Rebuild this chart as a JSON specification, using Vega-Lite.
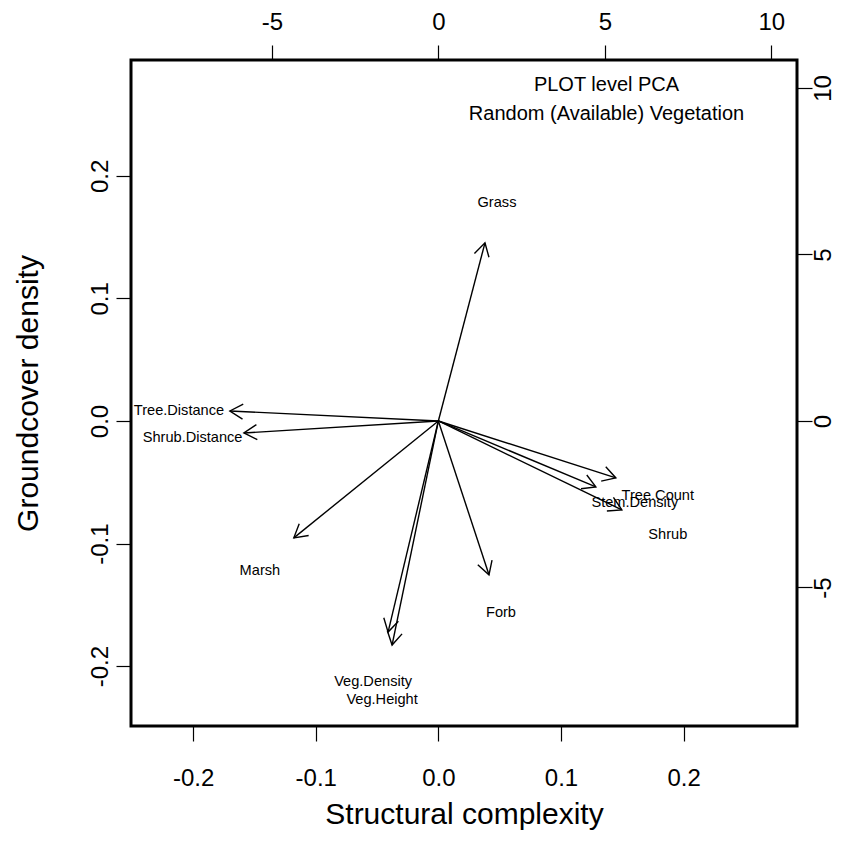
{
  "$schema": "https://vega.github.io/schema/vega-lite/v6.json",
  "width": 666,
  "height": 666,
  "autosize": {"type": "none"},
  "padding": {"left": 131, "top": 60, "right": 67, "bottom": 131},
  "background": "white",
  "config": {
    "font": "Liberation Sans",
    "view": {"stroke": "black", "strokeWidth": 3},
    "axis": {
      "domain": false,
      "grid": false,
      "tickColor": "black",
      "tickWidth": 1.2,
      "tickSize": 15,
      "labelColor": "black",
      "labelFont": "Liberation Sans",
      "labelFontSize": 24,
      "titleColor": "black",
      "titleFont": "Liberation Sans",
      "titleFontSize": 30,
      "titleFontWeight": "normal",
      "labelOverlap": false,
      "labelFlush": false
    }
  },
  "datasets": {
    "loadings": [
      {"variable": "Grass", "tipx": 1.40, "tipy": 5.35, "labx": 1.76, "laby": 6.55},
      {"variable": "Tree.Distance", "tipx": -6.26, "tipy": 0.30, "labx": -7.79, "laby": 0.30},
      {"variable": "Shrub.Distance", "tipx": -5.84, "tipy": -0.36, "labx": -7.38, "laby": -0.51},
      {"variable": "Marsh", "tipx": -4.34, "tipy": -3.51, "labx": -5.36, "laby": -4.50},
      {"variable": "Veg.Density", "tipx": -1.51, "tipy": -6.34, "labx": -1.96, "laby": -7.84},
      {"variable": "Veg.Height", "tipx": -1.39, "tipy": -6.73, "labx": -1.69, "laby": -8.38},
      {"variable": "Forb", "tipx": 1.52, "tipy": -4.62, "labx": 1.88, "laby": -5.77},
      {"variable": "Tree.Count", "tipx": 5.33, "tipy": -1.71, "labx": 6.59, "laby": -2.25},
      {"variable": "Stem.Density", "tipx": 4.73, "tipy": -1.98, "labx": 5.90, "laby": -2.46},
      {"variable": "Shrub", "tipx": 5.51, "tipy": -2.67, "labx": 6.89, "laby": -3.42}
    ],
    "origin": [{"px": 0, "py": 0}]
  },
  "layer": [
    {
      "data": {"name": "origin"},
      "mark": {"type": "point", "opacity": 0},
      "encoding": {
        "x": {
          "field": "px", "type": "quantitative",
          "scale": {"domain": [-0.2507, 0.2925], "nice": false, "zero": false},
          "axis": {
            "orient": "bottom",
            "values": [-0.2, -0.1, 0, 0.1, 0.2],
            "labelExpr": "replace(format(datum.value, '.1f'), '\u2212', '-')",
            "labelBaseline": "alphabetic",
            "labelPadding": 44,
            "title": "Structural complexity",
            "titleBaseline": "alphabetic",
            "titleY": 97
          }
        },
        "y": {
          "field": "py", "type": "quantitative",
          "scale": {"domain": [-0.2488, 0.2945], "nice": false, "zero": false},
          "axis": {
            "orient": "left",
            "values": [-0.2, -0.1, 0, 0.1, 0.2],
            "labelExpr": "replace(format(datum.value, '.1f'), '\u2212', '-')",
            "labelAngle": 270,
            "labelAlign": "center",
            "labelBaseline": "alphabetic",
            "labelPadding": 8.5,
            "title": "Groundcover density",
            "titleBaseline": "alphabetic",
            "titleX": -94
          }
        }
      }
    },
    {
      "data": {"name": "loadings"},
      "layer": [
        {
          "mark": {"type": "rule", "color": "black", "strokeWidth": 1.4},
          "encoding": {
            "x": {
              "field": "tipx", "type": "quantitative",
              "scale": {"domain": [-9.23, 10.77], "nice": false, "zero": false},
              "axis": {"orient": "top", "values": [-5, 0, 5, 10], "labelExpr": "replace(format(datum.value, 'd'), '\u2212', '-')", "labelBaseline": "alphabetic", "labelPadding": 15.5, "title": null}
            },
            "x2": {"datum": 0},
            "y": {
              "field": "tipy", "type": "quantitative",
              "scale": {"domain": [-9.16, 10.84], "nice": false, "zero": false},
              "axis": {"orient": "right", "values": [-5, 0, 5, 10], "labelExpr": "replace(format(datum.value, 'd'), '\u2212', '-')", "labelAngle": 270, "labelAlign": "center", "labelBaseline": "alphabetic", "labelPadding": 18, "title": null}
            },
            "y2": {"datum": 0}
          }
        },
        {
          "transform": [{"calculate": "atan2(-datum.tipy, datum.tipx) * 180 / PI", "as": "heading"}],
          "mark": {"type": "point", "shape": "M -0.866 -0.5 L 0 0 L -0.866 0.5", "filled": false, "color": "black", "strokeWidth": 1.4, "size": 900, "opacity": 1},
          "encoding": {
            "x": {
              "field": "tipx", "type": "quantitative",
              "scale": {"domain": [-9.23, 10.77], "nice": false, "zero": false},
              "axis": {"orient": "top", "values": [-5, 0, 5, 10], "labelExpr": "replace(format(datum.value, 'd'), '\u2212', '-')", "labelBaseline": "alphabetic", "labelPadding": 15.5, "title": null}
            },
            "y": {
              "field": "tipy", "type": "quantitative",
              "scale": {"domain": [-9.16, 10.84], "nice": false, "zero": false},
              "axis": {"orient": "right", "values": [-5, 0, 5, 10], "labelExpr": "replace(format(datum.value, 'd'), '\u2212', '-')", "labelAngle": 270, "labelAlign": "center", "labelBaseline": "alphabetic", "labelPadding": 18, "title": null}
            },
            "angle": {"field": "heading", "type": "quantitative", "scale": null}
          }
        },
        {
          "mark": {"type": "text", "font": "Liberation Sans", "fontSize": 14.6, "color": "black", "align": "center", "baseline": "middle"},
          "encoding": {
            "x": {
              "field": "labx", "type": "quantitative",
              "scale": {"domain": [-9.23, 10.77], "nice": false, "zero": false},
              "axis": {"orient": "top", "values": [-5, 0, 5, 10], "labelExpr": "replace(format(datum.value, 'd'), '\u2212', '-')", "labelBaseline": "alphabetic", "labelPadding": 15.5, "title": null}
            },
            "y": {
              "field": "laby", "type": "quantitative",
              "scale": {"domain": [-9.16, 10.84], "nice": false, "zero": false},
              "axis": {"orient": "right", "values": [-5, 0, 5, 10], "labelExpr": "replace(format(datum.value, 'd'), '\u2212', '-')", "labelAngle": 270, "labelAlign": "center", "labelBaseline": "alphabetic", "labelPadding": 18, "title": null}
            },
            "text": {"field": "variable"}
          }
        },
        {
          "data": {"values": [{"note": "PLOT level PCA|Random (Available) Vegetation"}]},
          "transform": [{"calculate": "split(datum.note, '|')", "as": "lines"}],
          "mark": {"type": "text", "font": "Liberation Sans", "fontSize": 20, "color": "black", "align": "center", "baseline": "middle", "lineHeight": 29},
          "encoding": {
            "x": {
              "datum": 5.05, "type": "quantitative",
              "scale": {"domain": [-9.23, 10.77], "nice": false, "zero": false},
              "axis": {"orient": "top", "values": [-5, 0, 5, 10], "labelExpr": "replace(format(datum.value, 'd'), '\u2212', '-')", "labelBaseline": "alphabetic", "labelPadding": 15.5, "title": null}
            },
            "y": {
              "datum": 10.09, "type": "quantitative",
              "scale": {"domain": [-9.16, 10.84], "nice": false, "zero": false},
              "axis": {"orient": "right", "values": [-5, 0, 5, 10], "labelExpr": "replace(format(datum.value, 'd'), '\u2212', '-')", "labelAngle": 270, "labelAlign": "center", "labelBaseline": "alphabetic", "labelPadding": 18, "title": null}
            },
            "text": {"field": "lines"}
          }
        }
      ]
    }
  ],
  "resolve": {"scale": {"x": "independent", "y": "independent"}}
}
